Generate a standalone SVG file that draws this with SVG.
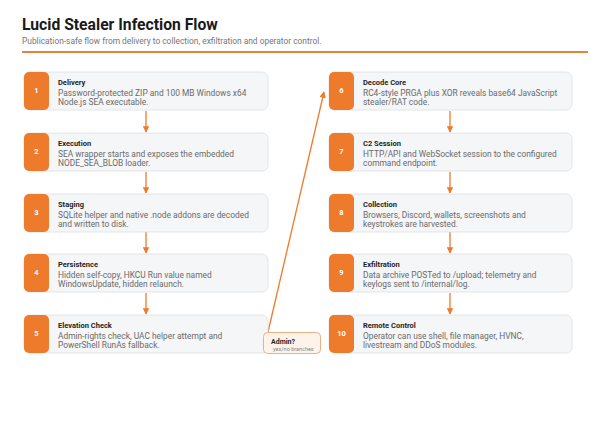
<svg xmlns="http://www.w3.org/2000/svg" width="610" height="423" viewBox="0 0 610 423">
<style>
text{font-family:Roboto,"Liberation Sans",sans-serif}
.card{fill:#f5f6f8;stroke:#dcdfe4;stroke-width:0.8}
.badge{fill:#ee7a2c}
.num{fill:#fff;font-size:7.5px;font-weight:700;text-anchor:middle}
.t{fill:#1f1f1f;font-size:7.5px;font-weight:700}
.d{fill:#6a6a6a;font-size:8.4px}
.con{stroke:#ee7a2c;stroke-width:1.3;fill:none}
</style>
<defs>
<marker id="ah" viewBox="0 0 10 10" refX="9" refY="5" markerWidth="5" markerHeight="5" orient="auto"><path d="M0,0L10,5L0,10z" fill="#ee7a2c"/></marker>
</defs>
<rect width="610" height="423" fill="#fff"/>
<text x="22" y="30" style="font-size:15.7px;font-weight:700;fill:#1a1a1a">Lucid Stealer Infection Flow</text>
<text x="22" y="43.5" style="font-size:8.4px;fill:#777">Publication-safe flow from delivery to collection, exfiltration and operator control.</text>
<rect x="22" y="51" width="566" height="2" fill="#e8823f"/>
<g id="connectors">
<line class="con" x1="146" y1="111" x2="146" y2="132" marker-end="url(#ah)"/>
<line class="con" x1="146" y1="172" x2="146" y2="193" marker-end="url(#ah)"/>
<line class="con" x1="146" y1="232" x2="146" y2="253" marker-end="url(#ah)"/>
<line class="con" x1="146" y1="293" x2="146" y2="314" marker-end="url(#ah)"/>
<line class="con" x1="450" y1="111" x2="450" y2="132" marker-end="url(#ah)"/>
<line class="con" x1="450" y1="172" x2="450" y2="193" marker-end="url(#ah)"/>
<line class="con" x1="450" y1="232" x2="450" y2="253" marker-end="url(#ah)"/>
<line class="con" x1="450" y1="293" x2="450" y2="314" marker-end="url(#ah)"/>
<line class="con" x1="268" y1="332" x2="324" y2="92" marker-end="url(#ah)"/>
</g>
<g id="n1"><rect class="card" x="24" y="72" width="244" height="38" rx="6"/><rect class="badge" x="24" y="72" width="25" height="38" rx="5"/><text class="num" x="36.5" y="92.5">1</text><text class="t" x="58" y="84.5">Delivery</text><text class="d" x="58" y="96">Password-protected ZIP and 100 MB Windows x64</text><text class="d" x="58" y="105">Node.js SEA executable.</text></g>
<g id="n2"><rect class="card" x="24" y="133" width="244" height="38" rx="6"/><rect class="badge" x="24" y="133" width="25" height="38" rx="5"/><text class="num" x="36.5" y="153.5">2</text><text class="t" x="58" y="145.5">Execution</text><text class="d" x="58" y="157">SEA wrapper starts and exposes the embedded</text><text class="d" x="58" y="166">NODE_SEA_BLOB loader.</text></g>
<g id="n3"><rect class="card" x="24" y="194" width="244" height="38" rx="6"/><rect class="badge" x="24" y="194" width="25" height="38" rx="5"/><text class="num" x="36.5" y="214.5">3</text><text class="t" x="58" y="206.5">Staging</text><text class="d" x="58" y="218">SQLite helper and native .node addons are decoded</text><text class="d" x="58" y="227">and written to disk.</text></g>
<g id="n4"><rect class="card" x="24" y="254" width="244" height="38" rx="6"/><rect class="badge" x="24" y="254" width="25" height="38" rx="5"/><text class="num" x="36.5" y="274.5">4</text><text class="t" x="58" y="266.5">Persistence</text><text class="d" x="58" y="278">Hidden self-copy, HKCU Run value named</text><text class="d" x="58" y="287">WindowsUpdate, hidden relaunch.</text></g>
<g id="n5"><rect class="card" x="24" y="315" width="244" height="38" rx="6"/><rect class="badge" x="24" y="315" width="25" height="38" rx="5"/><text class="num" x="36.5" y="335.5">5</text><text class="t" x="58" y="327.5">Elevation Check</text><text class="d" x="58" y="339">Admin-rights check, UAC helper attempt and</text><text class="d" x="58" y="348">PowerShell RunAs fallback.</text></g>
<g id="n6"><rect class="card" x="329" y="72" width="243" height="38" rx="6"/><rect class="badge" x="329" y="72" width="25" height="38" rx="5"/><text class="num" x="341.5" y="92.5">6</text><text class="t" x="363" y="84.5">Decode Core</text><text class="d" x="363" y="96">RC4-style PRGA plus XOR reveals base64 JavaScript</text><text class="d" x="363" y="105">stealer/RAT code.</text></g>
<g id="n7"><rect class="card" x="329" y="133" width="243" height="38" rx="6"/><rect class="badge" x="329" y="133" width="25" height="38" rx="5"/><text class="num" x="341.5" y="153.5">7</text><text class="t" x="363" y="145.5">C2 Session</text><text class="d" x="363" y="157">HTTP/API and WebSocket session to the configured</text><text class="d" x="363" y="166">command endpoint.</text></g>
<g id="n8"><rect class="card" x="329" y="194" width="243" height="38" rx="6"/><rect class="badge" x="329" y="194" width="25" height="38" rx="5"/><text class="num" x="341.5" y="214.5">8</text><text class="t" x="363" y="206.5">Collection</text><text class="d" x="363" y="218">Browsers, Discord, wallets, screenshots and</text><text class="d" x="363" y="227">keystrokes are harvested.</text></g>
<g id="n9"><rect class="card" x="329" y="254" width="243" height="38" rx="6"/><rect class="badge" x="329" y="254" width="25" height="38" rx="5"/><text class="num" x="341.5" y="274.5">9</text><text class="t" x="363" y="266.5">Exfiltration</text><text class="d" x="363" y="278">Data archive POSTed to /upload; telemetry and</text><text class="d" x="363" y="287">keylogs sent to /internal/log.</text></g>
<g id="n10"><rect class="card" x="329" y="315" width="243" height="38" rx="6"/><rect class="badge" x="329" y="315" width="25" height="38" rx="5"/><text class="num" x="341.5" y="335.5">10</text><text class="t" x="363" y="327.5">Remote Control</text><text class="d" x="363" y="339">Operator can use shell, file manager, HVNC,</text><text class="d" x="363" y="348">livestream and DDoS modules.</text></g>
<g id="admin"><rect x="263.5" y="332.5" width="57" height="21" rx="4" fill="#fdf3ea" stroke="#e9a877" stroke-width="0.9"/><text x="271" y="343.5" style="font-size:7px;font-weight:700;fill:#1f1f1f">Admin?</text><text x="273" y="351" style="font-size:5.5px;fill:#888">yes/no branches</text></g>
</svg>
